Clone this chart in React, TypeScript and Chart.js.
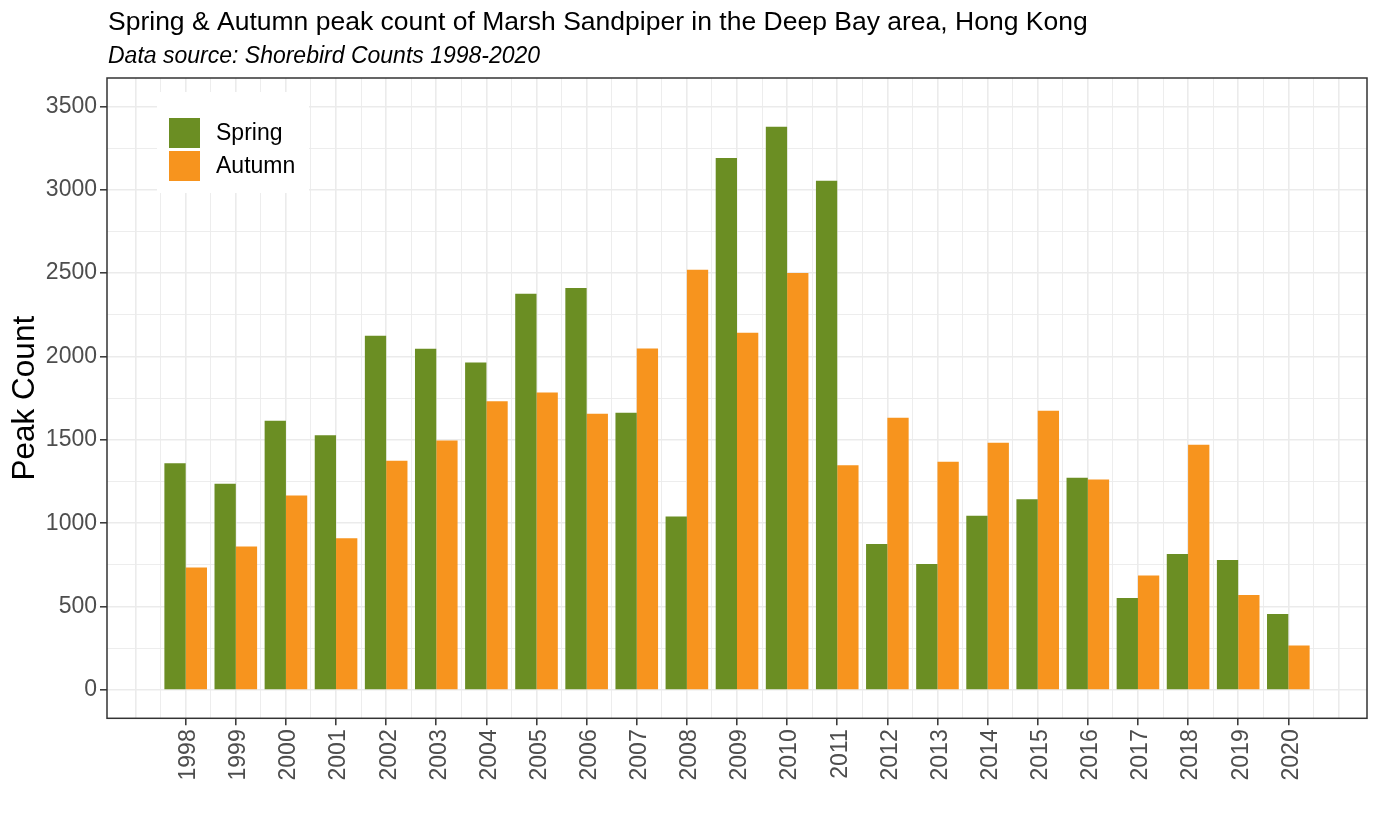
import React, { useEffect, useRef } from 'react';
import Chart from 'chart.js/auto';

const TITLE = 'Spring & Autumn peak count of Marsh Sandpiper in the Deep Bay area, Hong Kong';
const SUBTITLE = 'Data source: Shorebird Counts 1998-2020';
const Y_TITLE = 'Peak Count';

const YEARS = [1998, 1999, 2000, 2001, 2002, 2003, 2004, 2005, 2006, 2007, 2008, 2009, 2010, 2011, 2012, 2013, 2014, 2015, 2016, 2017, 2018, 2019, 2020];
const SPRING = [1360, 1236, 1614, 1528, 2124, 2046, 1964, 2376, 2410, 1662, 1040, 3190, 3378, 3054, 876, 756, 1044, 1144, 1272, 552, 816, 780, 456];
const AUTUMN = [734, 860, 1166, 910, 1374, 1496, 1732, 1784, 1656, 2048, 2520, 2142, 2500, 1348, 1632, 1368, 1482, 1674, 1262, 686, 1470, 570, 266];
const SERIES = ['Spring', 'Autumn'];
const COLORS = ['#6B8E23', '#F7941E'];
const Y_TICKS = [0, 500, 1000, 1500, 2000, 2500, 3000, 3500];
const Y_MINOR_STEP = 250;
const X_MINOR_STEP = 0.5;
// bars fill 85% of a year; the bar ruler spacing is the half-year grid step, so 2 x 0.85
const BAR_GROUP_FRACTION = 0.85 / X_MINOR_STEP;

const FONT = '"Liberation Sans", Arial, Helvetica, sans-serif';
const GRID = '#EBEBEB';
const AXIS_TEXT = '#4D4D4D';
const BORDER = '#333333';

const decorPlugin = {
  id: 'decor',
  beforeDraw(chart: any) {
    const ctx = chart.ctx;
    ctx.save();
    ctx.fillStyle = '#FFFFFF';
    ctx.fillRect(0, 0, chart.width, chart.height);
    ctx.restore();
  },
  afterDatasetsDraw(chart: any) {
    const ctx = chart.ctx;
    ctx.save();
    ctx.fillStyle = '#FFFFFF';
    ctx.fillRect(157, 92, 152, 101);
    const keyX = 169;
    const keyW = 31;
    const keyYs = [118, 151];
    ctx.font = `23px ${FONT}`;
    ctx.textBaseline = 'middle';
    ctx.textAlign = 'left';
    chart.data.datasets.forEach((ds: any, i: number) => {
      ctx.fillStyle = ds.backgroundColor;
      ctx.fillRect(keyX, keyYs[i], keyW, 30);
      ctx.fillStyle = '#000000';
      ctx.fillText(ds.label, 216, keyYs[i] + 16);
    });
    ctx.restore();
  },
  afterDraw(chart: any) {
    const ctx = chart.ctx;
    const a = chart.chartArea;
    ctx.save();
    ctx.strokeStyle = BORDER;
    ctx.lineWidth = 1.5;
    ctx.strokeRect(a.left, a.top, a.right - a.left, a.bottom - a.top);
    ctx.fillStyle = '#000000';
    ctx.textAlign = 'left';
    ctx.textBaseline = 'alphabetic';
    ctx.font = `26.5px ${FONT}`;
    ctx.fillText(TITLE, 108, 30);
    ctx.font = `italic 23px ${FONT}`;
    ctx.fillText(SUBTITLE, 108, 63);
    ctx.restore();
  },
};

export default function App() {
  const ref = useRef<HTMLCanvasElement | null>(null);
  useEffect(() => {
    if (!ref.current) return;
    Chart.defaults.font.family = FONT;
    const chart = new Chart(ref.current, {
      type: 'bar',
      data: {
        datasets: [
          {
            label: SERIES[0],
            data: YEARS.map((y, i) => ({ x: y, y: SPRING[i] })),
            backgroundColor: COLORS[0],
            borderWidth: 0,
          },
          {
            label: SERIES[1],
            data: YEARS.map((y, i) => ({ x: y, y: AUTUMN[i] })),
            backgroundColor: COLORS[1],
            borderWidth: 0,
          },
        ],
      },
      options: {
        animation: false,
        responsive: true,
        maintainAspectRatio: false,
        devicePixelRatio: 1,
        categoryPercentage: BAR_GROUP_FRACTION,
        barPercentage: 1,
        layout: { padding: { top: 78, left: 0, right: 11, bottom: 0 } },
        plugins: {
          legend: { display: false },
          title: { display: false },
          tooltip: { enabled: false },
        },
        scales: {
          x: {
            type: 'linear',
            min: 1996.43,
            max: 2021.57,
            offset: false,
            border: { display: false },
            afterBuildTicks(scale: any) {
              const t: any[] = [];
              for (let v = YEARS[0] - 1; v <= YEARS[YEARS.length - 1] + 1 + 1e-9; v += X_MINOR_STEP) {
                t.push({ value: v });
              }
              scale.ticks = t;
            },
            afterFit(scale: any) {
              scale.height = 827 - 718.3;
            },
            grid: {
              offset: false,
              color: GRID,
              lineWidth: (c: any) => (c.tick && Number.isInteger(c.tick.value) ? 1.6 : 0.9),
              tickColor: (c: any) => (c.tick && YEARS.includes(c.tick.value) ? BORDER : 'rgba(0,0,0,0)'),
              tickLength: 7,
              tickWidth: 1.5,
            },
            ticks: {
              autoSkip: false,
              minRotation: 90,
              maxRotation: 90,
              padding: 4,
              labelOffset: 3,
              color: AXIS_TEXT,
              font: { size: 23 },
              callback: (v: any) => (YEARS.includes(v) ? String(v) : ''),
            },
          },
          y: {
            type: 'linear',
            min: -170,
            max: 3670,
            border: { display: false },
            afterBuildTicks(scale: any) {
              const t: any[] = [];
              for (let v = Y_TICKS[0]; v <= Y_TICKS[Y_TICKS.length - 1]; v += Y_MINOR_STEP) {
                t.push({ value: v });
              }
              scale.ticks = t;
            },
            afterFit(scale: any) {
              scale.width = 107;
            },
            grid: {
              color: GRID,
              lineWidth: (c: any) => (c.tick && Y_TICKS.includes(c.tick.value) ? 1.6 : 0.9),
              tickColor: (c: any) => (c.tick && Y_TICKS.includes(c.tick.value) ? BORDER : 'rgba(0,0,0,0)'),
              tickLength: 7,
              tickWidth: 1.5,
            },
            ticks: {
              padding: 3,
              color: AXIS_TEXT,
              font: { size: 23 },
              callback: (v: any) => (Y_TICKS.includes(v) ? String(v) : ''),
            },
            title: {
              display: true,
              text: Y_TITLE,
              color: '#000000',
              font: { size: 31.5 },
              padding: { top: 6, bottom: 0 },
            },
          },
        },
      },
      plugins: [decorPlugin],
    } as any);
    return () => chart.destroy();
  }, []);
  return (
    <div style={{ position: 'fixed', left: 0, top: 0, width: 1378, height: 827, background: '#fff' }}>
      <canvas ref={ref} />
    </div>
  );
}
